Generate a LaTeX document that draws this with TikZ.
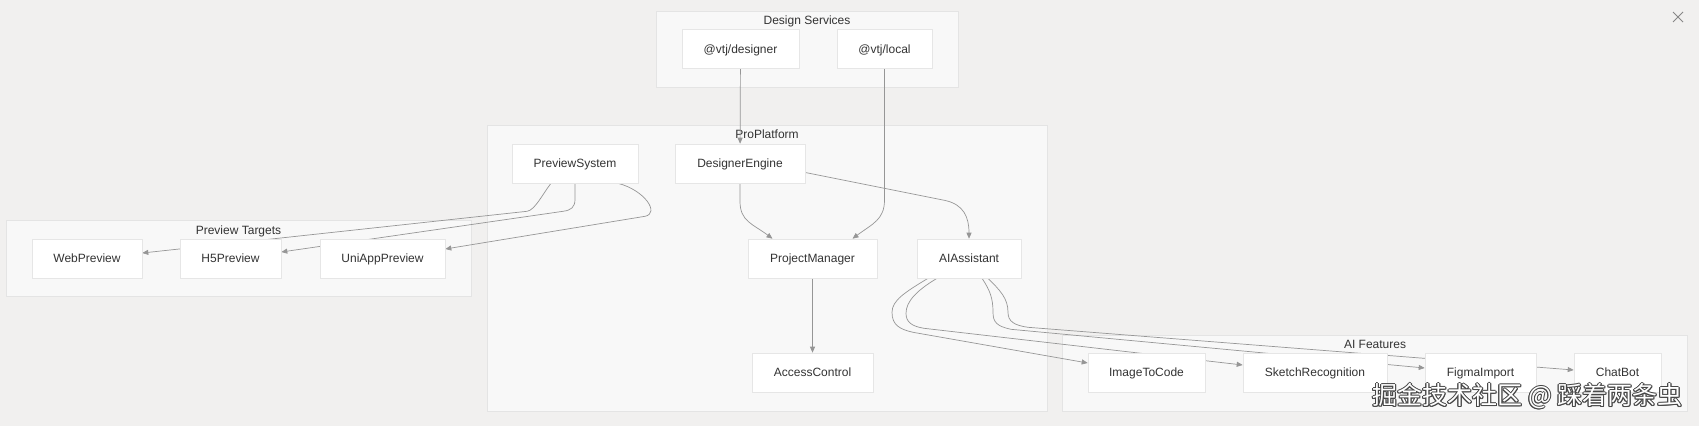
\documentclass[tikz,border=0pt]{standalone}
\usepackage{fontspec}
\setmainfont{Liberation Sans}
\newfontfamily\cjkfont{Noto Sans CJK SC}
\usepackage{tikz}
\usetikzlibrary{arrows.meta, backgrounds}

\definecolor{canvas}{RGB}{241,240,239}
\definecolor{grpfill}{RGB}{248,248,248}
\definecolor{grpline}{RGB}{228,228,228}
\definecolor{nodeline}{RGB}{230,230,230}
\definecolor{ink}{RGB}{51,51,51}
\definecolor{wire}{RGB}{150,150,150}
\definecolor{wmline}{RGB}{70,70,70}

\pgfdeclarelayer{edges}
\pgfsetlayers{background,edges,main}

\begin{document}
\begin{tikzpicture}[x=1pt, y=-1pt,
      font=\fontsize{12}{14}\selectfont,
      box/.style={draw=nodeline, fill=white, line width=0.6pt, minimum height=39pt, inner sep=0pt,
        text=ink, text height=8.6pt, text depth=0pt},
      grp/.style={draw=grpline, fill=grpfill, line width=0.6pt},
      grptitle/.style={text=ink, inner sep=0pt, text height=8.6pt, text depth=0pt},
      link/.style={draw=wire, line width=0.7pt, -{Triangle[length=6pt, width=5pt]}},
      wmark/.style={font=\cjkfont\fontsize{25}{25}\selectfont, inner sep=0pt}
    ]
    \useasboundingbox (0,0) rectangle (1699,426);

    % groups
    \begin{pgfonlayer}{background}
      \fill[canvas] (0,0) rectangle (1699,426);
      \draw[grp] (656,11) rectangle (958,87);
      \node[grptitle] (dstitle) at (807,20) {Design Services};
      \draw[grp] (487,125) rectangle (1047,411);
      \node[grptitle] (pptitle) at (767,134) {ProPlatform};
      \draw[grp] (6.5,220) rectangle (471,296);
      \node[grptitle] (pttitle) at (238.5,230) {Preview Targets};
      \draw[grp] (1062,335) rectangle (1687,411);
      \node[grptitle] (aftitle) at (1375,344) {AI Features};
    \end{pgfonlayer}

    % Design Services
    \node[box, minimum width=117pt] (desg) at (740.5,49) {@vtj/designer};
    \node[box, minimum width=95pt]  (locl) at (884.5,49) {@vtj/local};

    % ProPlatform
    \node[box, minimum width=126pt] (prev) at (575,163.5)   {PreviewSystem};
    \node[box, minimum width=130pt] (deng) at (740,163.5)   {DesignerEngine};
    \node[box, minimum width=129pt] (pm)   at (812.5,258.5) {ProjectManager};
    \node[box, minimum width=104pt] (ai)   at (969,258.5)   {AIAssistant};
    \node[box, minimum width=121pt] (ac)   at (812.5,372.5) {AccessControl};

    % Preview Targets
    \node[box, minimum width=110pt] (web) at (87,258.5)    {WebPreview};
    \node[box, minimum width=101pt] (h5)  at (230.5,258.5) {H5Preview};
    \node[box, minimum width=125pt] (uni) at (382.5,258.5) {UniAppPreview};

    % AI Features
    \node[box, minimum width=117pt] (img)  at (1146.5,372.5) {ImageToCode};
    \node[box, minimum width=144pt] (skr)  at (1315,372.5)   {SketchRecognition};
    \node[box, minimum width=111pt] (fig)  at (1480.5,372.5) {FigmaImport};
    \node[box, minimum width=87pt]  (chat) at (1617.5,372.5) {ChatBot};

    \begin{pgfonlayer}{edges}
      \draw[link] (desg) -- (deng);
      \draw[link] (locl.south) -- ++(0,131) .. controls +(0,20) and +(20,-15) .. ([xshift=40pt]pm.north);
      \draw[link] (deng.south) -- ++(0,18) .. controls +(0,20) and +(-20,-15) .. ([xshift=-40pt]pm.north);
      \draw[link] ([yshift=-9pt]deng.east) -- ++(140,28) .. controls +(18,4) and +(0,-22) .. (ai.north);
      \draw[link] (pm) -- (ac);

      \draw[link] ([xshift=-24pt]prev.south) .. controls +(-8,10) and +(8,-1) .. ++(-24,28) -- ([yshift=5.5pt]web.east);
      \draw[link] (prev.south) -- ++(0,16) .. controls +(0,8) and +(8,-1) .. ++(-12,12) -- ([yshift=6.5pt]h5.east);
      \draw[link] ([xshift=43pt]prev.south) .. controls +(27,7) and +(15,-3) .. ++(27,33) -- ([yshift=9.5pt]uni.east);

      \draw[link] ([xshift=-41pt]ai.south) .. controls +(-23,14) and +(0,-12) .. ++(-36,34)
        .. controls +(0,13) and +(-13,-3) .. ++(21,20) -- ([yshift=9.5pt]img.west);
      \draw[link] ([xshift=-32pt]ai.south) .. controls +(-20,12) and +(0,-12) .. ++(-31,35)
        .. controls +(0,9) and +(-12,-2) .. ++(18,15) -- ([yshift=7.5pt]skr.west);
      \draw[link] ([xshift=13pt]ai.south) .. controls +(8,12) and +(0,-14) .. ++(11,34)
        .. controls +(0,10) and +(-14,-3) .. ++(18,17) -- ([yshift=4.5pt]fig.west);
      \draw[link] ([xshift=19pt]ai.south) .. controls +(12,12) and +(0,-14) .. ++(20,34)
        .. controls +(0,9) and +(-14,-2) .. ++(20,15) -- ([yshift=2.5pt]chat.west);
    \end{pgfonlayer}

    % close mark
    \draw[wire!90!black, line width=0.9pt] (1673,12) -- (1683,22) (1683,12) -- (1673,22);

    % watermark
    \foreach \dx/\dy in {-1/0, 1/0, 0/-1, 0/1, -0.7/-0.7, 0.7/0.7, -0.7/0.7, 0.7/-0.7}
      \node[wmark, text=wmline] at (1527.5+\dx,396.5+\dy) {掘金技术社区 @ 踩着两条虫};
    \node[wmark, text=white] (wmk) at (1527.5,396.5) {掘金技术社区 @ 踩着两条虫};
  \end{tikzpicture}
\end{document}
